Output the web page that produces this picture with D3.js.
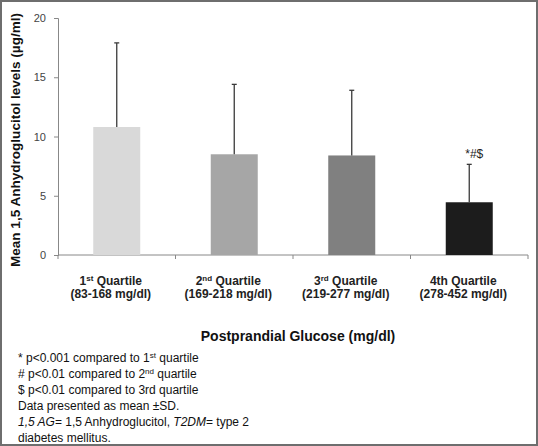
<!DOCTYPE html>
<html><head><meta charset="utf-8">
<script src="https://cdn.jsdelivr.net/npm/d3@7"></script>
<style>body{margin:0;background:#fff}svg{display:block;font-family:"Liberation Sans",Arial,sans-serif}</style>
</head><body><svg id="c" width="538" height="446"></svg>
<script>
const categories = ["Q1","Q2","Q3","Q4"];
const labelOrdinal = ["1","2","3","4"];
const labelSup = ["st","nd","rd",""];
const labelSuffix = [" Quartile"," Quartile"," Quartile","th Quartile"];
const labelRanges = ["(83-168 mg/dl)","(169-218 mg/dl)","(219-277 mg/dl)","(278-452 mg/dl)"];
const means = [10.8, 8.5, 8.4, 4.45];
const sds = [7.1, 5.9, 5.5, 3.2];
const colors = ["#d9d9d9","#a6a6a6","#808080","#1c1c1c"];
const annotations = ["","","","*#$"];
const yTicks = [0,5,10,15,20];
const notes = [
  [["* p<0.001 compared to 1",""],["st","sup"],[" quartile",""]],
  [["# p<0.01 compared to 2",""],["nd","sup"],[" quartile",""]],
  [["$ p<0.01 compared to 3rd quartile",""]],
  [["Data presented as mean \u00b1SD.",""]],
  [["1,5 AG","i"],["= 1,5 Anhydroglucitol, ",""],["T2DM","i"],["= type 2",""]],
  [["diabetes mellitus.",""]]
];

const svg = d3.select("#c");
svg.append("rect").attr("x",1).attr("y",1).attr("width",536).attr("height",444)
  .attr("fill","#fff").attr("stroke","#6e6e6e").attr("stroke-width",2);

const x = d3.scaleBand().domain(categories).range([58,528]).paddingInner(0).paddingOuter(0);
const y = d3.scaleLinear().domain([0,20]).range([255,18]);
const bw = x.bandwidth()*0.4;

// y axis
const ya = svg.append("g").attr("transform","translate(58,0)")
  .call(d3.axisLeft(y).tickValues(yTicks).tickSize(4).tickPadding(8));
ya.select(".domain").attr("stroke","#888");
ya.selectAll(".tick line").attr("stroke","#888");
ya.selectAll(".tick text").attr("fill","#444").style("font-size","11px")
  .style("font-family","'Liberation Sans',Arial,sans-serif");

// x axis
const xa = svg.append("g").attr("transform","translate(0,255)");
xa.append("line").attr("x1",58).attr("x2",528).attr("stroke","#888");
const bounds = categories.map(c=>x(c)).concat([x(categories[3])+x.bandwidth()]);
xa.selectAll("line.t").data(bounds).join("line").attr("class","t")
  .attr("x1",d=>d).attr("x2",d=>d).attr("y1",0).attr("y2",4).attr("stroke","#888");

// bars
const cx = c => x(c)+x.bandwidth()/2;
svg.selectAll("rect.bar").data(categories).join("rect").attr("class","bar")
  .attr("x",(c)=>cx(c)-bw/2).attr("width",bw)
  .attr("y",(c,i)=>y(means[i])).attr("height",(c,i)=>y(0)-y(means[i]))
  .attr("fill",(c,i)=>colors[i]);

// error bars
const eg = svg.append("g").attr("stroke","#3a3a3a").attr("stroke-width",1.3);
categories.forEach((c,i)=>{
  eg.append("line").attr("x1",cx(c)).attr("x2",cx(c)).attr("y1",y(means[i])).attr("y2",y(means[i]+sds[i]));
  eg.append("line").attr("x1",cx(c)-2.5).attr("x2",cx(c)+2.5).attr("y1",y(means[i]+sds[i])).attr("y2",y(means[i]+sds[i]));
});

// annotations
svg.selectAll("text.ann").data(categories).join("text").attr("class","ann")
  .attr("x",c=>cx(c)+5).attr("y",(c,i)=>y(means[i]+sds[i])-6)
  .attr("text-anchor","middle").style("font-size","12px").style("fill","#222")
  .style("font-family","'Liberation Sans',Arial,sans-serif")
  .text((c,i)=>annotations[i]);

// category labels
categories.forEach((c,i)=>{
  const t = svg.append("text").attr("x",cx(c)-6).attr("y",285).attr("text-anchor","middle")
    .style("font-size","12px").style("font-weight","bold").attr("fill","#222");
  t.append("tspan").text(labelOrdinal[i]);
  if(labelSup[i]) t.append("tspan").attr("dy",-4).style("font-size","8px").text(labelSup[i]);
  t.append("tspan").attr("dy",labelSup[i]?4:0).text(labelSuffix[i]);
  svg.append("text").attr("x",cx(c)-6).attr("y",298).attr("text-anchor","middle")
    .style("font-size","12px").style("font-weight","bold").attr("fill","#222").text(labelRanges[i]);
});

// axis titles
svg.append("text").attr("transform","translate(20,140) rotate(-90)").attr("text-anchor","middle")
  .style("font-size","13.5px").style("font-weight","bold").attr("fill","#111")
  .attr("textLength",254).attr("lengthAdjust","spacingAndGlyphs")
  .text("Mean 1,5 Anhydroglucitol levels (\u00b5g/ml)");
svg.append("text").attr("x",298).attr("y",341).attr("text-anchor","middle")
  .style("font-size","14px").style("font-weight","bold").attr("fill","#111")
  .text("Postprandial Glucose (mg/dl)");

// notes
notes.forEach((parts,k)=>{
  const t = svg.append("text").attr("x",18).attr("y",362+k*16)
    .style("font-size","12px").attr("fill","#111");
  let up=false;
  parts.forEach(([s,st])=>{
    const ts = t.append("tspan").text(s);
    if(st==="sup"){ts.attr("dy",-4).style("font-size","8px");up=true;}
    else if(up){ts.attr("dy",4);up=false;}
    if(st==="i") ts.style("font-style","italic");
  });
});
</script></body></html>
